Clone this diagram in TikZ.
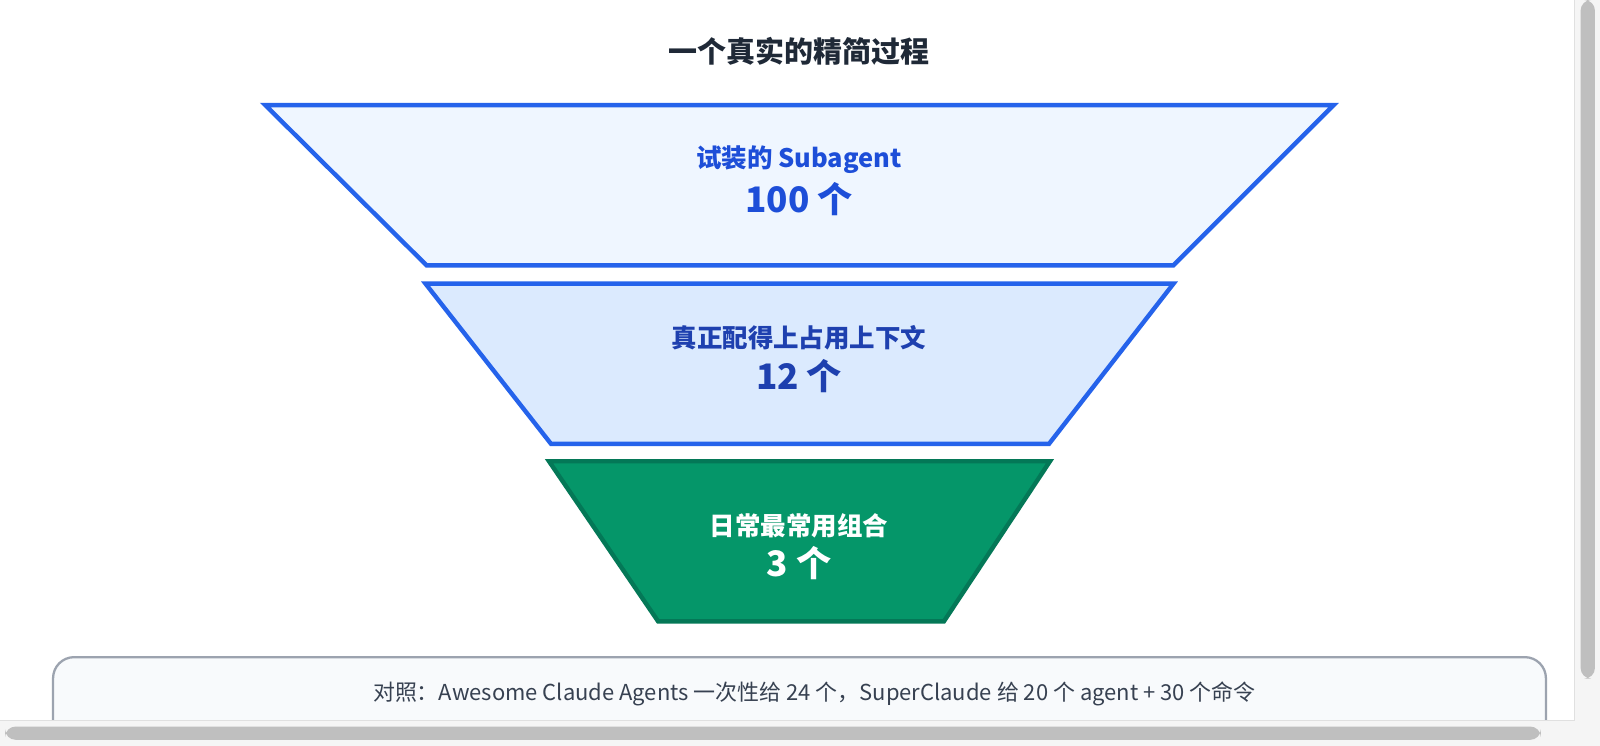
\documentclass[tikz,border=0pt]{standalone}
\usepackage{fontspec}
\setmainfont{Noto Sans CJK SC}
\usetikzlibrary{positioning}
\definecolor{blue1}{HTML}{2563EB}
\definecolor{blue2}{HTML}{1D4ED8}
\definecolor{blue3}{HTML}{1E40AF}
\definecolor{tan1}{HTML}{EFF6FF}
\definecolor{tan2}{HTML}{DBEAFE}
\definecolor{green1}{HTML}{059669}
\definecolor{green2}{HTML}{047857}
\definecolor{gray1}{HTML}{9CA3AF}
\definecolor{gray2}{HTML}{F8FAFC}
\definecolor{ink1}{HTML}{1F2937}
\definecolor{ink2}{HTML}{374151}
\tikzset{
  stage/.style={line width=2.5pt,line join=miter},
  stagelabel/.style={font=\fontsize{14.5}{17}\selectfont\bfseries,align=center},
  stagenum/.style={font=\fontsize{20}{23}\selectfont\bfseries}
}
\begin{document}
\begin{tikzpicture}[x=0.02041cm,y=-0.02041cm]
\useasboundingbox[fill=white] (0,0) rectangle (1568,731);

\node[font=\fontsize{16.5}{19}\selectfont\bfseries,text=ink1] (title) at (783,50) {一个真实的精简过程};

% funnel stages
\draw[stage,draw=blue1,fill=tan1] (260,103) -- (1307,103) -- (1150,260) -- (418,260) -- cycle;
\node[stagelabel,text=blue2] (s1) at (783,156) {试装的 Subagent};
\node[stagenum,text=blue2,below=-2pt of s1] (n1) {100 个};

\draw[stage,draw=blue1,fill=tan2] (417,278) -- (1150,278) -- (1028,435) -- (540,435) -- cycle;
\node[stagelabel,text=blue3] (s2) at (783,331) {真正配得上占用上下文};
\node[stagenum,text=blue3,below=-2pt of s2] (n2) {12 个};

\draw[stage,draw=green2,fill=green1] (538,452) -- (1029,452) -- (925,609) -- (645,609) -- cycle;
\node[stagelabel,text=white] (s3) at (783,515) {日常最常用组合};
\node[stagenum,text=white,below=-2pt of s3] (n3) {3 个};

% note box
\draw[gray1,fill=gray2,line width=1.3pt,rounded corners=12] (52,720) -- (52,644) -- (1515,644) -- (1515,720);
\node[font=\fontsize{12.5}{15}\selectfont,text=ink2] (note) at (798,680) {对照：Awesome Claude Agents 一次性给 24 个，SuperClaude 给 20 个 agent + 30 个命令};

% scrollbars
\fill[white!96!black] (1543,0) rectangle (1568,731);
\draw[white!88!black] (1543,0) -- (1543,706);
\fill[white!75!black,rounded corners=6] (1549,0) rectangle (1563,665);
\fill[white!96!black] (0,706) rectangle (1568,731);
\draw[white!88!black] (0,706) -- (1543,706);
\fill[white!75!black,rounded corners=6] (5,712) rectangle (1510,725);
\end{tikzpicture}
\end{document}
